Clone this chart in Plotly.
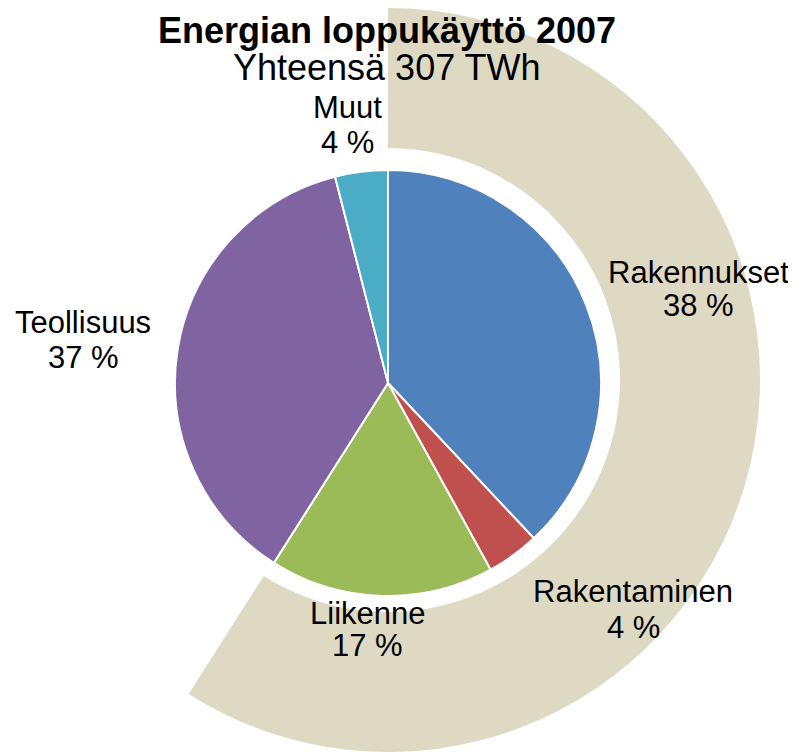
import plotly.graph_objects as go

# Viewport is 796x752 but the page body has an 8px margin, so the figure
# is sized to the visible area and all pixel positions are offset by it.
VW, VH = 796, 752
OFF = 8
W, H = VW - OFF, VH - OFF

# ---- data ----
categories = ["Rakennukset", "Rakentaminen", "Liikenne", "Teollisuus", "Muut"]
shares = [38, 4, 17, 37, 4]
colors = ["#4F81BD", "#C0504D", "#9BBB59", "#8064A2", "#4BACC6"]
pct_labels = ["38 %", "4 %", "17 %", "37 %", "4 %"]

ring_values = [59, 41]          # highlighted arc behind the pie (share of circle)
ring_colors = ["#DDD9C3", "rgba(0,0,0,0)"]

title_text = "Energian loppukäyttö 2007"
subtitle_text = "Yhteensä 307 TWh"

# ---- layout helpers (screen pixel geometry -> paper fractions) ----
def px(x):
    return (x - OFF) / W

def py(y):
    return 1 - (y - OFF) / H

def xd(a, b):
    return [px(a), px(b)]

def yd(top, bottom):
    return [py(bottom), py(top)]

ring_cx, ring_cy, ring_R, ring_r = 388, 380, 372, 232
pie_cx, pie_cy, pie_r = 388, 383, 213

FONT = "Liberation Sans, Arial, sans-serif"

fig = go.Figure()

fig.add_trace(go.Pie(
    values=ring_values,
    marker=dict(colors=ring_colors, line=dict(width=0)),
    hole=ring_r / ring_R,
    sort=False, direction="clockwise", rotation=0,
    textinfo="none", hoverinfo="skip", showlegend=False,
    domain=dict(x=xd(ring_cx - ring_R, ring_cx + ring_R),
                y=yd(ring_cy - ring_R, ring_cy + ring_R)),
))

fig.add_trace(go.Pie(
    labels=categories, values=shares,
    marker=dict(colors=colors, line=dict(color="white", width=2)),
    sort=False, direction="clockwise", rotation=0,
    textinfo="none", showlegend=False,
    domain=dict(x=xd(pie_cx - pie_r, pie_cx + pie_r),
                y=yd(pie_cy - pie_r, pie_cy + pie_r)),
))

# label placement (screen pixel centres of each text line)
label_x = [698, 633, 367, 83, 347]
label_y1 = [272, 591, 613, 322, 107]
label_y2 = [305, 627, 645, 357, 142]
LABEL_SIZE = 31

annotations = []
for name, pct, x, y1, y2 in zip(categories, pct_labels, label_x, label_y1, label_y2):
    for txt, yy in ((name, y1), (pct, y2)):
        annotations.append(dict(
            text=txt, x=px(x), y=py(yy), xref="paper", yref="paper",
            xanchor="center", yanchor="middle", showarrow=False,
            font=dict(family=FONT, size=LABEL_SIZE, color="black"),
        ))

annotations.append(dict(
    text="<b>" + title_text + "</b>", x=px(387), y=py(31),
    xref="paper", yref="paper", xanchor="center", yanchor="middle",
    showarrow=False, font=dict(family=FONT, size=36, color="black"),
))
annotations.append(dict(
    text=subtitle_text, x=px(387), y=py(67),
    xref="paper", yref="paper", xanchor="center", yanchor="middle",
    showarrow=False, font=dict(family=FONT, size=36, color="black"),
))

fig.update_layout(
    width=W, height=H,
    margin=dict(l=0, r=0, t=0, b=0),
    paper_bgcolor="white", plot_bgcolor="white",
    annotations=annotations,
    showlegend=False,
)

fig.write_html("out.html")
